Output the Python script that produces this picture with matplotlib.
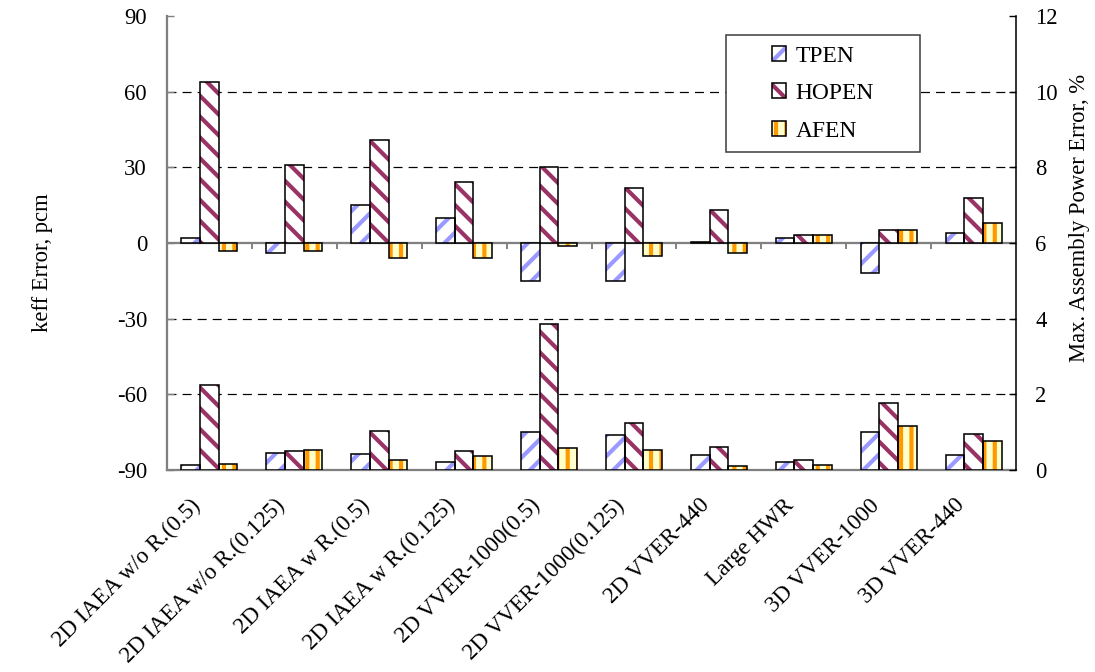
import numpy as np
import matplotlib
matplotlib.use("Agg")
import matplotlib.pyplot as plt
import matplotlib.patches as mpatches
import matplotlib.transforms as mtransforms

categories = ['2D IAEA w/o R.(0.5)', '2D IAEA w/o R.(0.125)', '2D IAEA w R.(0.5)',
              '2D IAEA w R.(0.125)', '2D VVER-1000(0.5)', '2D VVER-1000(0.125)',
              '2D VVER-440', 'Large HWR', '3D VVER-1000', '3D VVER-440']
series_names = ['TPEN', 'HOPEN', 'AFEN']

# keff error, pcm (left axis)
keff_tpen = [2, -4, 15, 10, -15, -15, 0.3, 2, -12, 4]
keff_hopen = [64, 31, 41, 24, 30, 22, 13, 3, 5, 18]
keff_afen = [-3, -3, -6, -6, -1, -5, -4, 3, 5, 8]

# max. assembly power error, % (right axis)
pow_tpen = [0.12, 0.46, 0.43, 0.20, 1.00, 0.92, 0.39, 0.20, 1.00, 0.39]
pow_hopen = [2.24, 0.51, 1.04, 0.49, 3.86, 1.25, 0.62, 0.27, 1.78, 0.94]
pow_afen = [0.17, 0.54, 0.26, 0.36, 0.59, 0.53, 0.11, 0.12, 1.16, 0.77]

left_ticks = [-90, -60, -30, 0, 30, 60, 90]
right_ticks = [0, 2, 4, 6, 8, 10, 12]

# styles: facecolor, hatch colour, hatch
styles = [('white', '#9999FF', '//'),
          ('white', '#993366', '\\\\'),
          ('#FFFFCC', '#FF9900', '||')]

plt.rcParams['font.family'] = ['Liberation Serif', 'DejaVu Serif']
plt.rcParams['axes.unicode_minus'] = False
plt.rcParams['hatch.linewidth'] = 2.4

fs = 13

fig = plt.figure(figsize=(8.76, 5.376), dpi=125)
ax = fig.add_axes([167/1095, 1-470/672, (1016-167)/1095, (470-16)/672])
ax2 = ax.twinx()

x = np.arange(len(categories))
w = 0.22
outline_lw = 0.9

def draw_bars(axis, vals, k):
    fc, hc, h = styles[k]
    pos = x + (k - 1) * w
    axis.bar(pos, vals, w, color=fc, edgecolor=hc, hatch=h, linewidth=0, zorder=3)
    axis.bar(pos, vals, w, fill=False, edgecolor='black', linewidth=outline_lw, zorder=4)

for k, vals in enumerate([keff_tpen, keff_hopen, keff_afen]):
    draw_bars(ax, vals, k)
for k, vals in enumerate([pow_tpen, pow_hopen, pow_afen]):
    draw_bars(ax2, vals, k)

ax.set_xlim(-0.5, len(categories) - 0.5)
ax.set_ylim(-90, 90)
ax2.set_ylim(0, 12)
ax.set_yticks(left_ticks)
ax2.set_yticks(right_ticks)

# dashed grid
for t in left_ticks[1:-1]:
    if t != 0:
        ax.axhline(t, color='black', linewidth=0.7, linestyle=(0, (7.4, 5)), zorder=1)

# zero line with category separators
ax.axhline(0, color='#808080', linewidth=1.3, zorder=2)
ax.vlines(x[:-1] + 0.5, -2.2, 0, color='#808080', linewidth=1.1, zorder=2)

ax.set_xticks(x)
ax.set_xticklabels(categories, rotation=45, ha='right', rotation_mode='anchor', fontsize=13.3)
ax.tick_params(axis='x', length=0, pad=8)
shift = mtransforms.ScaledTranslation(-20/125, -11/125, fig.dpi_scale_trans)
for lab in ax.get_xticklabels():
    lab.set_transform(lab.get_transform() + shift)

ax.tick_params(axis='y', labelsize=fs, direction='in', length=4, color='#808080', pad=11.5)
ax2.tick_params(axis='y', labelsize=fs, direction='in', length=4, pad=11)

for s in ['left', 'bottom']:
    ax.spines[s].set_color('#808080')
    ax.spines[s].set_linewidth(1.3)
    ax2.spines[s].set_visible(False)
ax.spines['top'].set_visible(False)
ax2.spines['top'].set_visible(False)
ax.spines['right'].set_visible(False)
ax2.spines['right'].set_color('black')
ax2.spines['right'].set_linewidth(0.9)

ax.set_ylabel('keff Error, pcm', fontsize=fs)
ax2.set_ylabel('Max. Assembly Power Error, %', fontsize=fs)
ax.yaxis.set_label_coords(-0.134, 0.456)
ax2.yaxis.set_label_coords(1.063, 0.555)

# legend box
box = mpatches.Rectangle((0.6584, 0.7004), 0.2286, 0.2576, transform=ax2.transAxes,
                         facecolor='white', edgecolor='#404040', linewidth=0.9, zorder=5)
ax2.add_patch(box)
handles = []
for fc, hc, h in styles:
    handles.append((mpatches.Patch(facecolor=fc, edgecolor=hc, hatch=h, linewidth=0),
                    mpatches.Patch(fill=False, edgecolor='black', linewidth=outline_lw)))
leg = ax2.legend(handles, series_names, loc='center', bbox_to_anchor=(0.7727, 0.829),
                 frameon=False, fontsize=13.5, handlelength=0.6, handleheight=0.6,
                 handletextpad=0.4, labelspacing=0.7)
leg.set_zorder(6)

fig.savefig('out.png', dpi=125)
